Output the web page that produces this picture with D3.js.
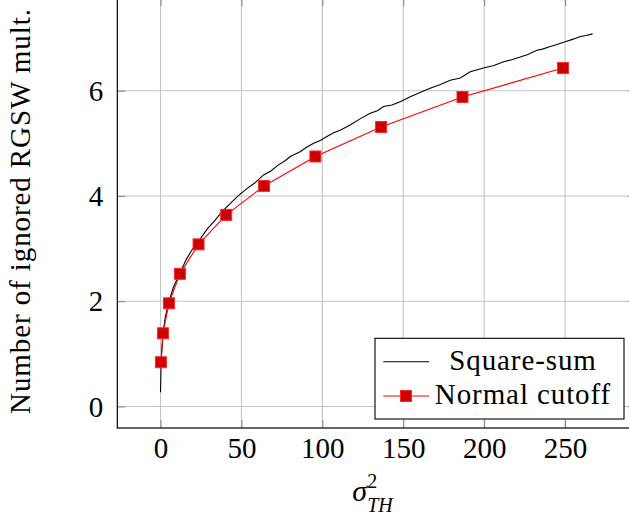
<!DOCTYPE html>
<html>
<head>
<meta charset="utf-8">
<script src="https://cdn.jsdelivr.net/npm/d3@7"></script>
<style>
  body { margin: 0; background: #fff; }
  svg { display: block; }
  svg text, svg tspan { font-family: "Liberation Serif", "Times New Roman", serif !important; fill: #000; }
</style>
</head>
<body>
<svg width="629" height="518"></svg>
<script>
// square-sum curve
var sqX = [0, 0.4, 1.5, 3, 5, 8, 12, 16, 20, 24.5, 29, 33.8, 38, 43.2, 48, 53.4, 58, 63.7, 68, 72.9,
           77, 80.2, 86.3, 90, 94.6, 99, 102.8, 107, 111, 117.2, 123, 129.6, 134, 137.8, 143, 148.1,
           154, 160, 167, 173, 179, 185.3, 191.4, 199.6, 206, 212, 217, 222.3, 227, 232.6, 236,
           240.9, 245, 250.1, 255, 259.4, 263, 267];
var sqY = [0.27, 0.85, 1.38, 1.7, 1.97, 2.27, 2.53, 2.8, 3.0, 3.18, 3.38, 3.54, 3.7, 3.86, 4.0, 4.14, 4.24, 4.4, 4.47, 4.59,
           4.67, 4.75, 4.84, 4.92, 5.0, 5.06, 5.13, 5.2, 5.25, 5.35, 5.46, 5.57, 5.62, 5.7, 5.73, 5.79,
           5.88, 5.96, 6.05, 6.12, 6.2, 6.24, 6.36, 6.43, 6.48, 6.55, 6.59, 6.64, 6.69, 6.77, 6.79,
           6.84, 6.88, 6.93, 6.98, 7.03, 7.05, 7.08];

// normal cutoff points
var cutX = [0.25, 1.5, 5.2, 12, 23.5, 40.6, 64, 95.7, 136.3, 186.6, 248.7];
var cutY = [0.84, 1.39, 1.96, 2.52, 3.08, 3.64, 4.19, 4.75, 5.31, 5.88, 6.43];

var xTicks = [0, 50, 100, 150, 200, 250];
var yTicks = [0, 2, 4, 6];

var seriesNames = ["Square-sum", "Normal cutoff"];

var svg = d3.select("svg");

var x = d3.scaleLinear()
    .domain([-26.7, 293.7])
    .range([117.3, 635.8]);

var y = d3.scaleLinear()
    .domain([-0.41, 7.76])
    .range([428, -1.9]);

var x0 = x.range()[0], x1 = x.range()[1],
    y0 = y.range()[0], y1 = y.range()[1];

var sq = sqX.map(function(d, i){ return [d, sqY[i]]; });
var cut = cutX.map(function(d, i){ return [d, cutY[i]]; });

// grid
var grid = svg.append("g").attr("class", "grid");
grid.selectAll(".gx")
  .data(xTicks)
  .enter().append("line")
    .attr("x1", function(d){ return x(d); })
    .attr("x2", function(d){ return x(d); })
    .attr("y1", y0)
    .attr("y2", y1)
    .style("stroke", "#c4c4c4")
    .style("stroke-width", 1.1);
grid.selectAll(".gy")
  .data(yTicks)
  .enter().append("line")
    .attr("x1", x0)
    .attr("x2", x1)
    .attr("y1", function(d){ return y(d); })
    .attr("y2", function(d){ return y(d); })
    .style("stroke", "#c4c4c4")
    .style("stroke-width", 1.1);

// axes, ticks drawn inwards
var tickLen = 8;
var xb = svg.append("g")
    .attr("transform", "translate(0," + y0 + ")")
    .call(d3.axisBottom(x).tickValues(xTicks).tickSize(-tickLen).tickPadding(11)
      .tickFormat(d3.format("d")));
var xt = svg.append("g")
    .attr("transform", "translate(0," + y1 + ")")
    .call(d3.axisTop(x).tickValues(xTicks).tickSize(-tickLen).tickFormat(""));
var yl = svg.append("g")
    .attr("transform", "translate(" + x0 + ",0)")
    .call(d3.axisLeft(y).tickValues(yTicks).tickSize(-tickLen).tickPadding(14)
      .tickFormat(d3.format("d")));
var yr = svg.append("g")
    .attr("transform", "translate(" + x1 + ",0)")
    .call(d3.axisRight(y).tickValues(yTicks).tickSize(-tickLen).tickFormat(""));

[xb, xt, yl, yr].forEach(function(g){
  g.select(".domain").remove();
  g.selectAll(".tick line").style("stroke", "#8a8a8a").style("stroke-width", 1.1);
  g.selectAll(".tick text")
    .style("font-size", "29px")
    .style("fill", "#000");
});
xb.selectAll(".tick text").attr("dy", "0.66em");
yl.selectAll(".tick text").attr("dy", "0.33em");

// box
svg.append("rect")
    .attr("x", x0)
    .attr("y", y1)
    .attr("width", x1 - x0)
    .attr("height", y0 - y1)
    .style("fill", "none")
    .style("stroke", "#000")
    .style("stroke-width", 1.2);

// series
var line = d3.line()
    .x(function(d){ return x(d[0]); })
    .y(function(d){ return y(d[1]); });

svg.append("path")
    .datum(sq)
    .attr("d", line)
    .style("fill", "none")
    .style("stroke", "#000")
    .style("stroke-width", 1.1);

svg.append("path")
    .datum(cut)
    .attr("d", line)
    .style("fill", "none")
    .style("stroke", "#ff0000")
    .style("stroke-width", 1.1);

var ms = 11;
svg.selectAll(".mark")
  .data(cut)
  .enter().append("rect")
    .attr("class", "mark")
    .attr("x", function(d){ return x(d[0]) - ms / 2; })
    .attr("y", function(d){ return y(d[1]) - ms / 2; })
    .attr("width", ms)
    .attr("height", ms)
    .style("fill", "#cc0000")
    .style("stroke", "#ff2a2a")
    .style("stroke-width", 1);

// axis labels
var xl = svg.append("text")
    .attr("x", (x0 + x1) / 2 - 4)
    .attr("y", 501)
    .attr("text-anchor", "middle")
    .style("font-size", "30px");
xl.append("tspan").style("font-style", "italic").text("σ");
xl.append("tspan").attr("dy", -13).style("font-size", "20px").text("2");
xl.append("tspan").attr("dx", -10).attr("dy", 24).style("font-size", "20px")
  .style("font-style", "italic").text("TH");

svg.append("text")
    .attr("transform", "translate(30," + ((y0 + y1) / 2 - 2) + ") rotate(-90)")
    .attr("text-anchor", "middle")
    .style("font-size", "29px")
    .style("letter-spacing", "0.9px")
    .text("Number of ignored RGSW mult.");

// legend
var leg = svg.append("g");
leg.append("rect")
    .attr("x", 375)
    .attr("y", 338.3)
    .attr("width", 249)
    .attr("height", 80.7)
    .style("fill", "#fff")
    .style("stroke", "#000")
    .style("stroke-width", 1.1);

var rows = [361.7, 396];
leg.append("line")
    .attr("x1", 383.3).attr("x2", 429)
    .attr("y1", rows[0]).attr("y2", rows[0])
    .style("stroke", "#000").style("stroke-width", 1.1);
leg.append("line")
    .attr("x1", 383.3).attr("x2", 429)
    .attr("y1", rows[1]).attr("y2", rows[1])
    .style("stroke", "#ff0000").style("stroke-width", 1.1);
leg.append("rect")
    .attr("x", 406 - ms / 2).attr("y", rows[1] - ms / 2)
    .attr("width", ms).attr("height", ms)
    .style("fill", "#cc0000").style("stroke", "#ff2a2a").style("stroke-width", 1);

leg.selectAll(".lt")
  .data(seriesNames)
  .enter().append("text")
    .attr("x", 523)
    .attr("y", function(d, i){ return rows[i] + 8.5 - i; })
    .attr("text-anchor", "middle")
    .style("font-size", "29px")
    .style("letter-spacing", "0.9px")
    .text(function(d){ return d; });
</script>
</body>
</html>
